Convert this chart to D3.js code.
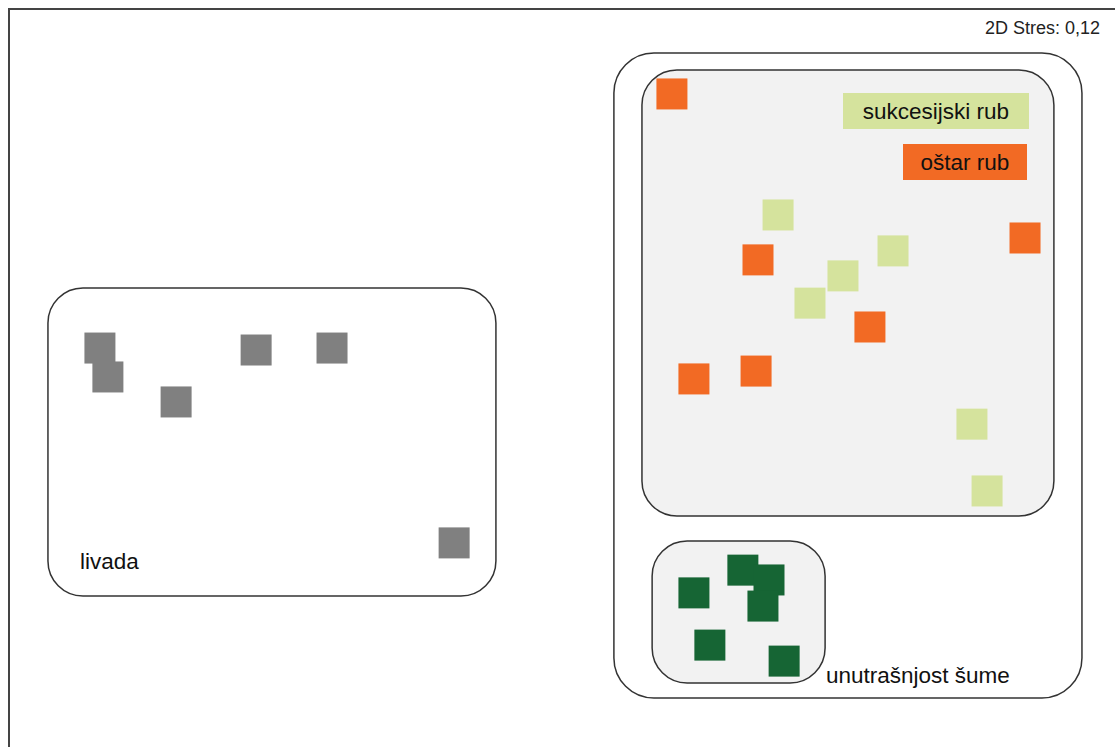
<!DOCTYPE html>
<html>
<head>
<meta charset="utf-8">
<script src="https://cdn.jsdelivr.net/npm/d3@7"></script>
<style>
  body { margin: 0; background: #fff; }
  svg { display: block; font-family: Arial, "Liberation Sans", sans-serif; }
</style>
</head>
<body>
<div id="chart"></div>
<script>
// NMDS ordination scores (axis 1, axis 2)
var livadaX = [-1.673, -1.644, -1.396, -1.105, -0.829, -0.385];
var livadaY = [0.096, -0.007, -0.096, 0.089, 0.096, -0.598];

var ostarX = [0.407, 0.720, 1.127, 1.691, 0.713, 0.487];
var ostarY = [1.001, 0.410, 0.171, 0.488, 0.014, -0.014];

var sukcesijskiX = [0.793, 1.211, 1.029, 0.909, 1.498, 1.553];
var sukcesijskiY = [0.570, 0.442, 0.353, 0.256, -0.175, -0.413];

var sumaX = [0.487, 0.665, 0.760, 0.738, 0.545, 0.815];
var sumaY = [-0.776, -0.695, -0.730, -0.823, -0.962, -1.019];

var stressLabel = "2D Stres: 0,12";

// group enclosures [x0, x1, y0, y1] in ordination units
var groupNames = ["livada", "rub i šuma", "rub", "unutrašnjost šume"];
var groupBounds = [
  [-1.862, -0.233, 0.310, -0.787],
  [0.196, 1.898, 1.147, -1.150],
  [0.298, 1.796, 1.086, -0.502],
  [0.335, 0.964, -0.591, -1.097]
];

var legendLabels = ["sukcesijski rub", "oštar rub"];

var width = 1115, height = 747;
var x = d3.scaleLinear().domain([-2, 2]).range([10, 1110]);
var y = d3.scaleLinear().domain([1.3, -1.3]).range([10, 740]);

var colors = {
  livada: "#808080",
  ostar: "#f26a24",
  sukcesijski: "#d5e39d",
  suma: "#166534"
};

var svg = d3.select("#chart").append("svg")
  .attr("width", width).attr("height", height);

// plot frame
svg.append("rect")
  .attr("x", 9).attr("y", 9)
  .attr("width", 1200).attr("height", 800)
  .style("fill", "none").style("stroke", "#444").style("stroke-width", 2);

svg.append("text")
  .attr("x", 1100).attr("y", 34)
  .attr("text-anchor", "end")
  .style("font-size", "18px").style("fill", "#222")
  .text(stressLabel);

// enclosures
var boxFill = ["#fff", "#fff", "#f2f2f2", "#f2f2f2"];
var boxRadius = [35, 40, 35, 35];
svg.selectAll("rect.group").data(groupBounds)
  .enter().append("rect")
  .attr("class", "group")
  .attr("x", function(d) { return x(d[0]); })
  .attr("y", function(d) { return y(d[2]); })
  .attr("width", function(d) { return x(d[1]) - x(d[0]); })
  .attr("height", function(d) { return y(d[3]) - y(d[2]); })
  .attr("rx", function(d, i) { return boxRadius[i]; })
  .style("fill", function(d, i) { return boxFill[i]; })
  .style("stroke", "#333").style("stroke-width", 1.5);

svg.append("text")
  .attr("x", 80).attr("y", 569)
  .style("font-size", "22.5px").style("fill", "#111")
  .text(groupNames[0]);

svg.append("text")
  .attr("x", 826).attr("y", 683)
  .style("font-size", "22.5px").style("fill", "#111")
  .text(groupNames[3]);

// points
var size = 31;
function drawSquares(xs, ys, color) {
  svg.append("g").selectAll("rect").data(xs)
    .enter().append("rect")
    .attr("x", function(d) { return x(d) - size / 2; })
    .attr("y", function(d, i) { return y(ys[i]) - size / 2; })
    .attr("width", size).attr("height", size)
    .style("fill", color);
}
drawSquares(livadaX, livadaY, colors.livada);
drawSquares(ostarX, ostarY, colors.ostar);
drawSquares(sukcesijskiX, sukcesijskiY, colors.sukcesijski);
drawSquares(sumaX, sumaY, colors.suma);

// legend
var legendBoxes = [
  { x: 843, y: 93, w: 186, h: 36, fill: colors.sukcesijski },
  { x: 903, y: 144, w: 124, h: 36, fill: colors.ostar }
];
var leg = svg.append("g").selectAll("g").data(legendLabels)
  .enter().append("g");
leg.append("rect")
  .attr("x", function(d, i) { return legendBoxes[i].x; })
  .attr("y", function(d, i) { return legendBoxes[i].y; })
  .attr("width", function(d, i) { return legendBoxes[i].w; })
  .attr("height", function(d, i) { return legendBoxes[i].h; })
  .style("fill", function(d, i) { return legendBoxes[i].fill; });
leg.append("text")
  .attr("x", function(d, i) { return legendBoxes[i].x + legendBoxes[i].w / 2; })
  .attr("y", function(d, i) { return legendBoxes[i].y + 26; })
  .attr("text-anchor", "middle")
  .style("font-size", "22.5px").style("fill", "#111")
  .text(function(d) { return d; });
</script>
</body>
</html>
